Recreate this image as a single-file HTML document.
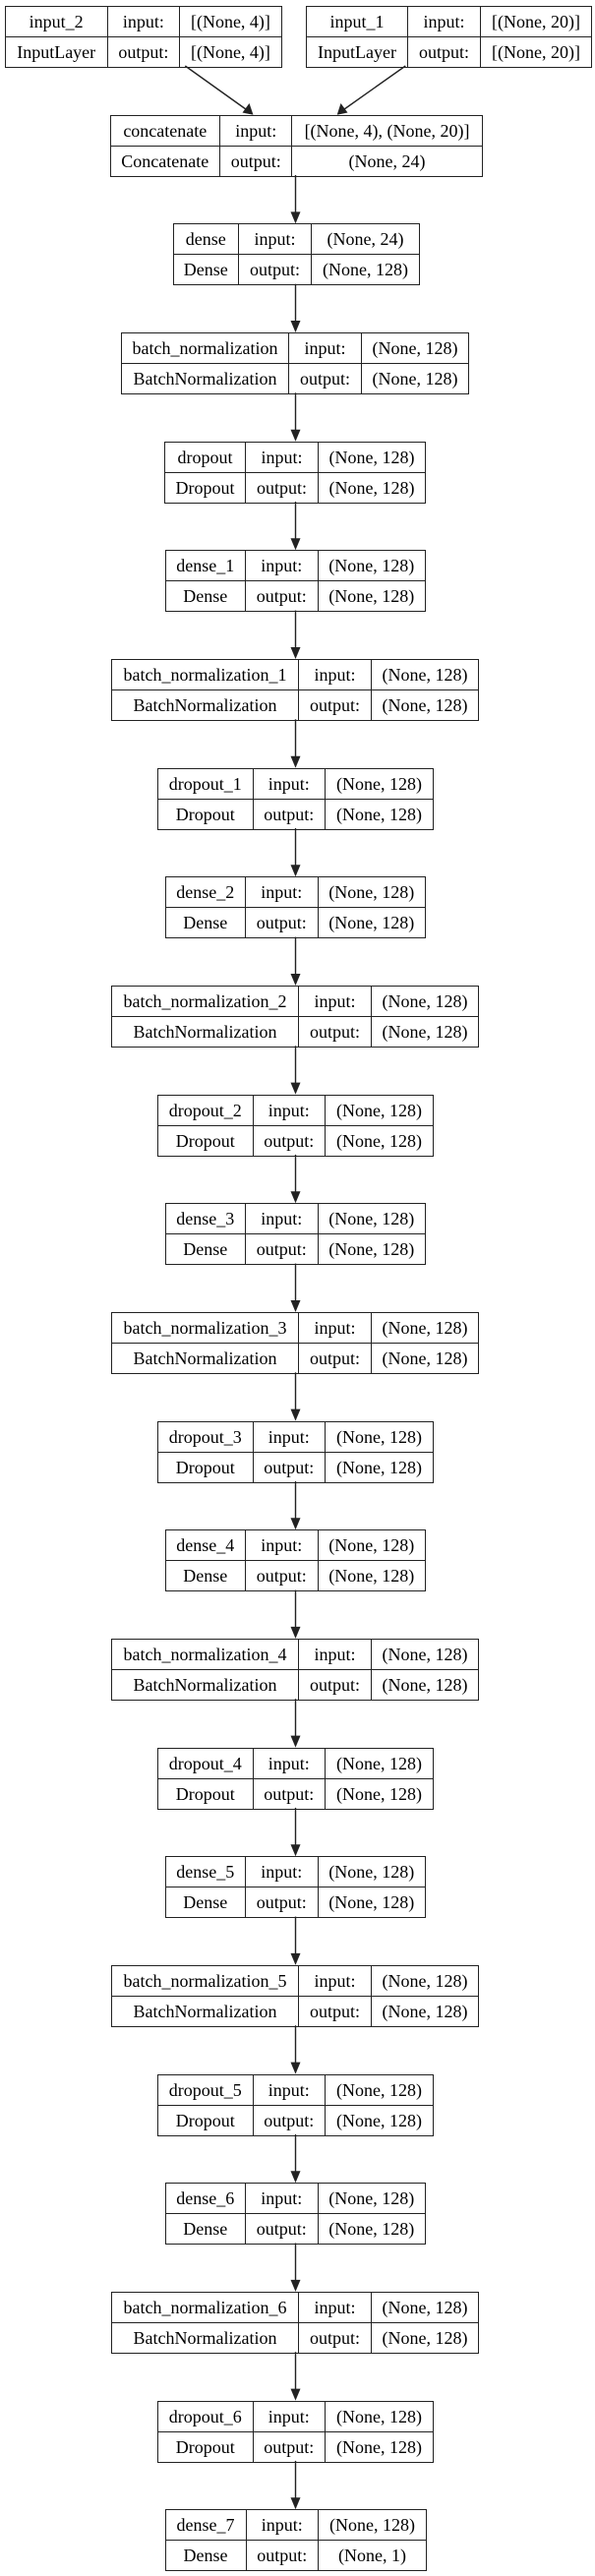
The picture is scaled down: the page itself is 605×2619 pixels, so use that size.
<!DOCTYPE html>
<html><head><meta charset="utf-8"><style>
body{margin:0;width:605px;height:2619px;background:#fff;position:relative;overflow:hidden;font-family:"Liberation Serif","Times New Roman",Times,serif;font-size:18px;color:#000}
table{position:absolute;border-collapse:collapse;table-layout:fixed;height:61px;font-family:"Liberation Serif","Times New Roman",Times,serif;font-size:18px}
td{border:1.3px solid #222;text-align:center;padding:0;height:30px;white-space:nowrap;overflow:hidden;line-height:28px;font-family:"Liberation Serif","Times New Roman",Times,serif;font-size:18px}
svg{position:absolute;left:0;top:0}
</style></head><body>
<svg width="605" height="2619">
<g stroke="#222" stroke-width="1.4" fill="#222">
<line x1="188.3" y1="67" x2="252" y2="112.5"/><polygon points="257.5,116.7 246.5,114.5 253.5,105" stroke="none"/>
<line x1="412.3" y1="67" x2="348" y2="112.5"/><polygon points="342.7,116.7 353.5,114.5 346.5,105" stroke="none"/>
<g id="arrows">
<line x1="300.5" y1="178" x2="300.5" y2="216"/><polygon points="295.5,215.4 305.5,215.4 300.5,227.4" stroke="none"/>
<line x1="300.5" y1="288.7" x2="300.5" y2="327"/><polygon points="295.5,326 305.5,326 300.5,338" stroke="none"/>
<line x1="300.5" y1="399.3" x2="300.5" y2="437"/><polygon points="295.5,436.7 305.5,436.7 300.5,448.7" stroke="none"/>
<line x1="300.5" y1="510" x2="300.5" y2="548"/><polygon points="295.5,547.3 305.5,547.3 300.5,559.3" stroke="none"/>
<line x1="300.5" y1="620.6" x2="300.5" y2="659"/><polygon points="295.5,658 305.5,658 300.5,670" stroke="none"/>
<line x1="300.5" y1="731.3" x2="300.5" y2="769"/><polygon points="295.5,768.7 305.5,768.7 300.5,780.7" stroke="none"/>
<line x1="300.5" y1="842" x2="300.5" y2="880"/><polygon points="295.5,879.3 305.5,879.3 300.5,891.3" stroke="none"/>
<line x1="300.5" y1="952.6" x2="300.5" y2="991"/><polygon points="295.5,990 305.5,990 300.5,1002" stroke="none"/>
<line x1="300.5" y1="1063.3" x2="300.5" y2="1101"/><polygon points="295.5,1100.6 305.5,1100.6 300.5,1112.6" stroke="none"/>
<line x1="300.5" y1="1173.9" x2="300.5" y2="1212"/><polygon points="295.5,1211.3 305.5,1211.3 300.5,1223.3" stroke="none"/>
<line x1="300.5" y1="1284.6" x2="300.5" y2="1323"/><polygon points="295.5,1322 305.5,1322 300.5,1334" stroke="none"/>
<line x1="300.5" y1="1395.3" x2="300.5" y2="1433"/><polygon points="295.5,1432.6 305.5,1432.6 300.5,1444.6" stroke="none"/>
<line x1="300.5" y1="1505.9" x2="300.5" y2="1544"/><polygon points="295.5,1543.3 305.5,1543.3 300.5,1555.3" stroke="none"/>
<line x1="300.5" y1="1616.6" x2="300.5" y2="1654"/><polygon points="295.5,1653.9 305.5,1653.9 300.5,1665.9" stroke="none"/>
<line x1="300.5" y1="1727.2" x2="300.5" y2="1765"/><polygon points="295.5,1764.6 305.5,1764.6 300.5,1776.6" stroke="none"/>
<line x1="300.5" y1="1837.9" x2="300.5" y2="1876"/><polygon points="295.5,1875.3 305.5,1875.3 300.5,1887.3" stroke="none"/>
<line x1="300.5" y1="1948.6" x2="300.5" y2="1987"/><polygon points="295.5,1985.9 305.5,1985.9 300.5,1997.9" stroke="none"/>
<line x1="300.5" y1="2059.2" x2="300.5" y2="2097"/><polygon points="295.5,2096.6 305.5,2096.6 300.5,2108.6" stroke="none"/>
<line x1="300.5" y1="2169.9" x2="300.5" y2="2208"/><polygon points="295.5,2207.2 305.5,2207.2 300.5,2219.2" stroke="none"/>
<line x1="300.5" y1="2280.5" x2="300.5" y2="2319"/><polygon points="295.5,2317.9 305.5,2317.9 300.5,2329.9" stroke="none"/>
<line x1="300.5" y1="2391.2" x2="300.5" y2="2429"/><polygon points="295.5,2428.6 305.5,2428.6 300.5,2440.6" stroke="none"/>
<line x1="300.5" y1="2501.9" x2="300.5" y2="2540"/><polygon points="295.5,2539.2 305.5,2539.2 300.5,2551.2" stroke="none"/>
</g></g></svg>

<table style="left:4.7px;top:5.7px;width:282px"><colgroup><col style="width:104px"><col style="width:73.5px"><col></colgroup>
<tr><td>input_2</td><td>input:</td><td>[(None, 4)]</td></tr><tr><td>InputLayer</td><td>output:</td><td>[(None, 4)]</td></tr></table>
<table style="left:311px;top:5.7px;width:291px"><colgroup><col style="width:103px"><col style="width:74px"><col></colgroup>
<tr><td>input_1</td><td>input:</td><td>[(None, 20)]</td></tr><tr><td>InputLayer</td><td>output:</td><td>[(None, 20)]</td></tr></table>

<table style="left:111.6px;top:116.7px;width:379px"><colgroup><col style="width:111.4px"><col style="width:73.5px"><col></colgroup>
<tr><td>concatenate</td><td>input:</td><td>[(None, 4), (None, 20)]</td></tr><tr><td>Concatenate</td><td>output:</td><td>(None, 24)</td></tr></table>
<table style="left:175.6px;top:227.4px;width:251.4px"><colgroup><col style="width:66.4px"><col style="width:74px"><col></colgroup>
<tr><td>dense</td><td>input:</td><td>(None, 24)</td></tr><tr><td>Dense</td><td>output:</td><td>(None, 128)</td></tr></table>
<table style="left:122.7px;top:338px;width:354.6px"><colgroup><col style="width:170.6px"><col style="width:73.4px"><col></colgroup>
<tr><td>batch_normalization</td><td>input:</td><td>(None, 128)</td></tr><tr><td>BatchNormalization</td><td>output:</td><td>(None, 128)</td></tr></table>
<table style="left:166.7px;top:448.7px;width:266.6px"><colgroup><col style="width:82.6px"><col style="width:73.4px"><col></colgroup>
<tr><td>dropout</td><td>input:</td><td>(None, 128)</td></tr><tr><td>Dropout</td><td>output:</td><td>(None, 128)</td></tr></table>

<table style="left:167.5px;top:559.3px;width:265.5px"><colgroup><col style="width:81.5px"><col style="width:73.5px"><col></colgroup>
<tr><td>dense_1</td><td>input:</td><td>(None, 128)</td></tr><tr><td>Dense</td><td>output:</td><td>(None, 128)</td></tr></table>
<table style="left:113px;top:670px;width:374px"><colgroup><col style="width:190px"><col style="width:74px"><col></colgroup>
<tr><td>batch_normalization_1</td><td>input:</td><td>(None, 128)</td></tr><tr><td>BatchNormalization</td><td>output:</td><td>(None, 128)</td></tr></table>
<table style="left:160px;top:780.7px;width:281px"><colgroup><col style="width:96.5px"><col style="width:73.5px"><col></colgroup>
<tr><td>dropout_1</td><td>input:</td><td>(None, 128)</td></tr><tr><td>Dropout</td><td>output:</td><td>(None, 128)</td></tr></table>

<table style="left:167.5px;top:891.3px;width:265.5px"><colgroup><col style="width:81.5px"><col style="width:73.5px"><col></colgroup>
<tr><td>dense_2</td><td>input:</td><td>(None, 128)</td></tr><tr><td>Dense</td><td>output:</td><td>(None, 128)</td></tr></table>
<table style="left:113px;top:1002px;width:374px"><colgroup><col style="width:190px"><col style="width:74px"><col></colgroup>
<tr><td>batch_normalization_2</td><td>input:</td><td>(None, 128)</td></tr><tr><td>BatchNormalization</td><td>output:</td><td>(None, 128)</td></tr></table>
<table style="left:160px;top:1112.6px;width:281px"><colgroup><col style="width:96.5px"><col style="width:73.5px"><col></colgroup>
<tr><td>dropout_2</td><td>input:</td><td>(None, 128)</td></tr><tr><td>Dropout</td><td>output:</td><td>(None, 128)</td></tr></table>

<table style="left:167.5px;top:1223.3px;width:265.5px"><colgroup><col style="width:81.5px"><col style="width:73.5px"><col></colgroup>
<tr><td>dense_3</td><td>input:</td><td>(None, 128)</td></tr><tr><td>Dense</td><td>output:</td><td>(None, 128)</td></tr></table>
<table style="left:113px;top:1334px;width:374px"><colgroup><col style="width:190px"><col style="width:74px"><col></colgroup>
<tr><td>batch_normalization_3</td><td>input:</td><td>(None, 128)</td></tr><tr><td>BatchNormalization</td><td>output:</td><td>(None, 128)</td></tr></table>
<table style="left:160px;top:1444.6px;width:281px"><colgroup><col style="width:96.5px"><col style="width:73.5px"><col></colgroup>
<tr><td>dropout_3</td><td>input:</td><td>(None, 128)</td></tr><tr><td>Dropout</td><td>output:</td><td>(None, 128)</td></tr></table>

<table style="left:167.5px;top:1555.3px;width:265.5px"><colgroup><col style="width:81.5px"><col style="width:73.5px"><col></colgroup>
<tr><td>dense_4</td><td>input:</td><td>(None, 128)</td></tr><tr><td>Dense</td><td>output:</td><td>(None, 128)</td></tr></table>
<table style="left:113px;top:1665.9px;width:374px"><colgroup><col style="width:190px"><col style="width:74px"><col></colgroup>
<tr><td>batch_normalization_4</td><td>input:</td><td>(None, 128)</td></tr><tr><td>BatchNormalization</td><td>output:</td><td>(None, 128)</td></tr></table>
<table style="left:160px;top:1776.6px;width:281px"><colgroup><col style="width:96.5px"><col style="width:73.5px"><col></colgroup>
<tr><td>dropout_4</td><td>input:</td><td>(None, 128)</td></tr><tr><td>Dropout</td><td>output:</td><td>(None, 128)</td></tr></table>

<table style="left:167.5px;top:1887.3px;width:265.5px"><colgroup><col style="width:81.5px"><col style="width:73.5px"><col></colgroup>
<tr><td>dense_5</td><td>input:</td><td>(None, 128)</td></tr><tr><td>Dense</td><td>output:</td><td>(None, 128)</td></tr></table>
<table style="left:113px;top:1997.9px;width:374px"><colgroup><col style="width:190px"><col style="width:74px"><col></colgroup>
<tr><td>batch_normalization_5</td><td>input:</td><td>(None, 128)</td></tr><tr><td>BatchNormalization</td><td>output:</td><td>(None, 128)</td></tr></table>
<table style="left:160px;top:2108.6px;width:281px"><colgroup><col style="width:96.5px"><col style="width:73.5px"><col></colgroup>
<tr><td>dropout_5</td><td>input:</td><td>(None, 128)</td></tr><tr><td>Dropout</td><td>output:</td><td>(None, 128)</td></tr></table>

<table style="left:167.5px;top:2219.2px;width:265.5px"><colgroup><col style="width:81.5px"><col style="width:73.5px"><col></colgroup>
<tr><td>dense_6</td><td>input:</td><td>(None, 128)</td></tr><tr><td>Dense</td><td>output:</td><td>(None, 128)</td></tr></table>
<table style="left:113px;top:2329.9px;width:374px"><colgroup><col style="width:190px"><col style="width:74px"><col></colgroup>
<tr><td>batch_normalization_6</td><td>input:</td><td>(None, 128)</td></tr><tr><td>BatchNormalization</td><td>output:</td><td>(None, 128)</td></tr></table>
<table style="left:160px;top:2440.6px;width:281px"><colgroup><col style="width:96.5px"><col style="width:73.5px"><col></colgroup>
<tr><td>dropout_6</td><td>input:</td><td>(None, 128)</td></tr><tr><td>Dropout</td><td>output:</td><td>(None, 128)</td></tr></table>

<table style="left:167.5px;top:2551.2px;width:266.5px"><colgroup><col style="width:82px"><col style="width:73.5px"><col></colgroup>
<tr><td>dense_7</td><td>input:</td><td>(None, 128)</td></tr><tr><td>Dense</td><td>output:</td><td>(None, 1)</td></tr></table>
</body></html>
